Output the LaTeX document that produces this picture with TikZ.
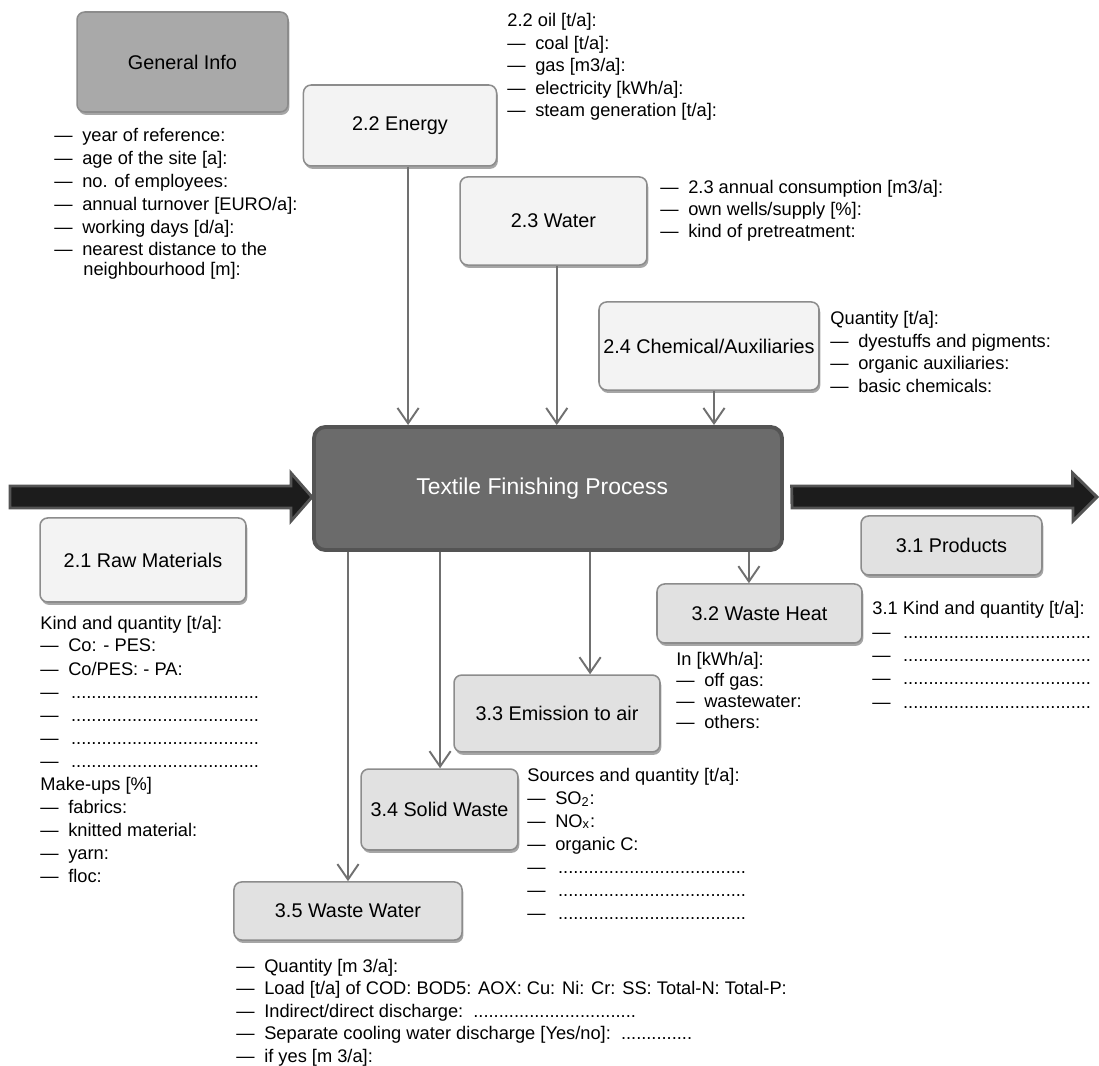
\documentclass[tikz,border=0pt]{standalone}
\usepackage{fontspec}
\setmainfont{Liberation Sans}
\usetikzlibrary{arrows.meta,shadows}

\definecolor{boxline}{HTML}{8C8C8C}
\definecolor{infofill}{HTML}{A9A9A9}
\definecolor{inputfill}{HTML}{F3F3F3}
\definecolor{outputfill}{HTML}{E1E1E1}
\definecolor{procfill}{HTML}{6B6B6B}
\definecolor{procline}{HTML}{545454}
\definecolor{flowline}{HTML}{707070}
\definecolor{bigfill}{HTML}{1C1C1C}

\newcommand{\dsh}{\makebox[14.5pt][l]{—}}
\newcommand{\blank}{\makebox[16pt][l]{—}.....................................}
\newcommand{\longdots}{................................}
\newcommand{\shortdots}{..............}
\newcommand{\listfont}{\fontsize{9.5}{11.5}\selectfont}
\newcommand{\boxfont}{\fontsize{10.3}{12}\selectfont}

\tikzset{
  box/.style={draw=boxline, line width=0.8pt, rounded corners=4pt, font=\boxfont, inner sep=0pt,
    drop shadow={shadow xshift=0.7pt, shadow yshift=-1.5pt, fill=black!35, opacity=1}},
  inbox/.style={box, fill=inputfill},
  outbox/.style={box, fill=outputfill},
  item/.style={anchor=base west, inner sep=0pt, font=\listfont},
  flow/.style={draw=flowline, line width=1pt, -{Straight Barb[length=8pt,width=11pt]}},
  bigarrow/.style={draw=procline, fill=bigfill, line width=1.5pt, line join=miter}
}

\begin{document}
\begin{tikzpicture}[x=0.52pt, y=-0.52pt]
\fill[white] (0,0) rectangle (1099,1066);%background
\useasboundingbox (0,0) rectangle (1099,1066);
% boxes
\node[box, fill=infofill, minimum width=109.7pt, minimum height=52pt] (info) at (182.5,62) {General Info};
\node[inbox, minimum width=100.4pt, minimum height=42.1pt] (energy) at (400,125.5) {2.2 Energy};
\node[inbox, minimum width=97.2pt, minimum height=45.8pt] (water) at (553.5,221) {2.3 Water};
\node[inbox, minimum width=114.4pt, minimum height=45.8pt] (chem) at (709,346) {2.4 Chemical/Auxiliaries};
\node[inbox, minimum width=107.1pt, minimum height=43.7pt] (raw) at (143,560) {2.1 Raw Materials};
\node[draw=procline, fill=procfill, line width=2pt, rounded corners=6pt, minimum width=243.4pt, minimum height=64pt] (proc) at (548,488.5) {};
\node[text=white, font=\fontsize{11.9}{14}\selectfont] (proctext) at ([xshift=-3pt]proc.center) {Textile Finishing Process};
\node[outbox, minimum width=94.1pt, minimum height=30.7pt] (prod) at (951.5,545.5) {3.1 Products};
\node[outbox, minimum width=106.6pt, minimum height=30.7pt] (heat) at (759.5,613.5) {3.2 Waste Heat};
\node[outbox, minimum width=107.1pt, minimum height=40pt] (air) at (557,713.5) {3.3 Emission to air};
\node[outbox, minimum width=81.6pt, minimum height=42.1pt] (solid) at (439.5,809.5) {3.4 Solid Waste};
\node[outbox, minimum width=118.6pt, minimum height=30.2pt] (wwater) at (348,911) {3.5 Waste Water};
% big arrows in and out
\coordinate (src) at (10,497);
\coordinate (sink) at (1097,497);
\draw[bigarrow] ([yshift=5.7pt]src) -- ++(281,0) -- ++(0,-13) -- (proc.west |- src) -- ++(-21,24) -- ++(0,-13) -- ++(-281,0) -- cycle;
\draw[bigarrow] ([xshift=4pt,yshift=5.7pt]proc.east |- sink) -- ++(281,0) -- ++(0,-13) -- (sink) -- ++(-24,24) -- ++(0,-13) -- ++(-281,0) -- cycle;
% flows
\draw[flow] ([xshift=4.2pt]energy.south) -- ([xshift=4.2pt]energy.south |- proc.north);
\draw[flow] ([xshift=1.7pt]water.south) -- ([xshift=1.7pt]water.south |- proc.north);
\draw[flow] ([xshift=2.6pt]chem.south) -- ([xshift=2.6pt]chem.south |- proc.north);
\draw[flow] ([xshift=-5.5pt]heat.north |- proc.south) -- ([xshift=-5.5pt]heat.north);
\draw[flow] ([xshift=17.2pt]air.north |- proc.south) -- ([xshift=17.2pt]air.north);
\draw[flow] ([xshift=0.3pt]solid.north |- proc.south) -- ([xshift=0.3pt]solid.north);
\draw[flow] (wwater.north |- proc.south) -- (wwater.north);
% lists
\foreach \t [count=\i from 0] in {year of reference:, age of the site [a]:, no. of employees:, annual turnover [EURO/a]:, working days [d/a]:, nearest distance to the}
  \node[item] (gi\i) at (54,{142+22.8*\i}) {\dsh\t};
\node[item] (gi6) at (83,276) {neighbourhood [m]:};
\foreach \t [count=\i from 0] in {2.2 oil [t/a]:, \dsh coal [t/a]:, \dsh gas [m3/a]:, \dsh electricity [kWh/a]:, \dsh steam generation [t/a]:}
  \node[item] (en\i) at (507,{27+22.5*\i}) {\t};
\foreach \t [count=\i from 0] in {2.3 annual consumption [m3/a]:, own wells/supply [\%]:, kind of pretreatment:}
  \node[item] (wa\i) at (660,{194+22*\i}) {\dsh\t};
\foreach \t [count=\i from 0] in {Quantity [t/a]:, \dsh dyestuffs and pigments:, \dsh organic auxiliaries:, \dsh basic chemicals:}
  \node[item] (ch\i) at (830,{325+22.5*\i}) {\t};
\foreach \t [count=\i from 0] in {Kind and quantity [t/a]:, \dsh Co: - PES:, \dsh Co/PES: - PA:, \blank, \blank, \blank, \blank, Make-ups [\%], \dsh fabrics:, \dsh knitted material:, \dsh yarn:, \dsh floc:}
  \node[item] (rm\i) at (40,{629+23*\i}) {\t};
\foreach \t [count=\i from 0] in {3.1 Kind and quantity [t/a]:, \blank, \blank, \blank, \blank}
  \node[item] (pr\i) at (872,{615+23.3*\i}) {\t};
\foreach \t [count=\i from 0] in {In [kWh/a]:, \dsh off gas:, \dsh wastewater:, \dsh others:}
  \node[item] (wh\i) at (676,{666+20.7*\i}) {\t};
\foreach \t [count=\i from 0] in {Sources and quantity [t/a]:, \dsh SO\textsubscript{2}:, \dsh NO\textsubscript{x}:, \dsh organic C:, \blank, \blank, \blank}
  \node[item] (sw\i) at (527,{781+23*\i}) {\t};
\foreach \t [count=\i from 0] in {Quantity [m 3/a]:, Load [t/a] of COD: BOD5: AOX: Cu: Ni: Cr: SS: Total-N: Total-P:, Indirect/direct discharge:\ \ \longdots, Separate cooling water discharge [Yes/no]:\ \ \shortdots, if yes [m 3/a]:}
  \node[item] (ww\i) at (236,{972+22.5*\i}) {\dsh\t};
\end{tikzpicture}
\end{document}
